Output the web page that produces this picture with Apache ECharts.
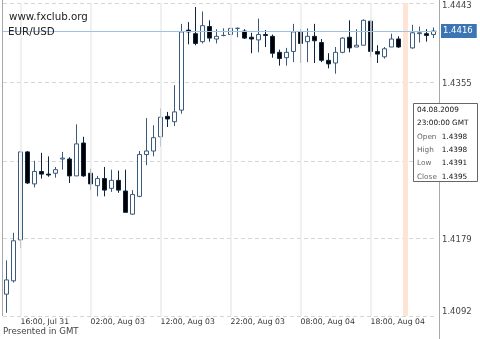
<!DOCTYPE html>
<html>
<head>
<meta charset="utf-8">
<script src="https://cdn.jsdelivr.net/npm/echarts@6/dist/echarts.min.js"></script>
<style>html,body{margin:0;padding:0;background:#fff}#c{width:480px;height:339px}</style>
</head>
<body>
<div id="c"></div>
<script>
// Hourly EUR/USD candles (GMT)
const categories = [
  '31.07.2009 14:00','31.07.2009 15:00','31.07.2009 16:00','31.07.2009 17:00','31.07.2009 18:00','31.07.2009 19:00','31.07.2009 20:00','31.07.2009 21:00',
  '02.08.2009 22:00','02.08.2009 23:00',
  '03.08.2009 00:00','03.08.2009 01:00','03.08.2009 02:00','03.08.2009 03:00','03.08.2009 04:00','03.08.2009 05:00','03.08.2009 06:00','03.08.2009 07:00',
  '03.08.2009 08:00','03.08.2009 09:00','03.08.2009 10:00','03.08.2009 11:00','03.08.2009 12:00','03.08.2009 13:00','03.08.2009 14:00','03.08.2009 15:00',
  '03.08.2009 16:00','03.08.2009 17:00','03.08.2009 18:00','03.08.2009 19:00','03.08.2009 20:00','03.08.2009 21:00','03.08.2009 22:00','03.08.2009 23:00',
  '04.08.2009 00:00','04.08.2009 01:00','04.08.2009 02:00','04.08.2009 03:00','04.08.2009 04:00','04.08.2009 05:00','04.08.2009 06:00','04.08.2009 07:00',
  '04.08.2009 08:00','04.08.2009 09:00','04.08.2009 10:00','04.08.2009 11:00','04.08.2009 12:00','04.08.2009 13:00','04.08.2009 14:00','04.08.2009 15:00',
  '04.08.2009 16:00','04.08.2009 17:00','04.08.2009 18:00','04.08.2009 19:00','04.08.2009 20:00','04.08.2009 21:00','04.08.2009 22:00','04.08.2009 23:00',
  '05.08.2009 00:00','05.08.2009 01:00','05.08.2009 02:00','05.08.2009 03:00'
];
const opens = [1.4120,1.4135,1.4181,1.4280,1.4244,1.4258,1.4255,1.4256,1.4272,1.4272,
  1.4253,1.4290,1.4256,1.4242,1.4250,1.4239,1.4248,1.4236,1.4210,1.4230,
  1.4277,1.4281,1.4297,1.4320,1.4314,1.4327,1.4417,1.4413,1.4404,1.4421,
  1.4407,1.4411,1.4412,1.4419,1.4416,1.4409,1.4406,1.4412,1.4410,1.4392,
  1.4386,1.4393,1.4415,1.4404,1.4410,1.4403,1.4383,1.4380,1.4392,1.4409,
  1.4398,1.4400,1.4427,1.4393,1.4387,1.4398,1.4407,1.4398,1.4397,1.4413,
  1.4413,1.4412];
const closes = [1.4136,1.4180,1.4280,1.4245,1.4258,1.4255,1.4254,1.4260,1.4273,1.4253,
  1.4289,1.4253,1.4244,1.4250,1.4237,1.4248,1.4237,1.4212,1.4232,1.4277,
  1.4281,1.4296,1.4319,1.4317,1.4325,1.4415,1.4415,1.4402,1.4422,1.4408,
  1.4410,1.4411,1.4419,1.4419,1.4408,1.4407,1.4412,1.4411,1.4391,1.4385,
  1.4392,1.4415,1.4402,1.4410,1.4405,1.4383,1.4379,1.4392,1.4408,1.4397,
  1.4400,1.4428,1.4393,1.4390,1.4396,1.4407,1.4398,1.4395,1.4414,1.4414,
  1.4411,1.4416];
const lows = [1.4099,1.4133,1.4172,1.4244,1.4240,1.4250,1.4252,1.4251,1.4260,1.4245,
  1.4253,1.4252,1.4237,1.4230,1.4230,1.4235,1.4234,1.4212,1.4209,1.4229,
  1.4265,1.4275,1.4286,1.4308,1.4309,1.4323,1.4401,1.4400,1.4402,1.4404,
  1.4402,1.4410,1.4412,1.4409,1.4407,1.4391,1.4392,1.4398,1.4386,1.4377,
  1.4377,1.4381,1.4380,1.4381,1.4380,1.4381,1.4374,1.4368,1.4391,1.4392,
  1.4398,1.4400,1.4387,1.4380,1.4385,1.4398,1.4397,1.4391,1.4396,1.4403,
  1.4404,1.4408];
const highs = [1.4158,1.4189,1.4281,1.4281,1.4270,1.4279,1.4275,1.4263,1.4280,1.4274,
  1.4311,1.4297,1.4261,1.4253,1.4263,1.4260,1.4259,1.4260,1.4237,1.4281,
  1.4318,1.4310,1.4329,1.4325,1.4355,1.4424,1.4426,1.4443,1.4438,1.4428,
  1.4418,1.4419,1.4419,1.4420,1.4418,1.4414,1.4430,1.4417,1.4412,1.4395,
  1.4397,1.4424,1.4418,1.4419,1.4424,1.4407,1.4391,1.4398,1.4409,1.4428,
  1.4418,1.4429,1.4428,1.4400,1.4398,1.4413,1.4410,1.4398,1.4423,1.4421,
  1.4418,1.4420];
// price axis
const yMin = 1.40954, yMax = 1.44475;
const gridValues = [1.40954, 1.41832, 1.42698, 1.43587, 1.44475];
const yTickLabels = ['1.4092', '1.4179', '1.4267', '1.4355', '1.4443'];
const xLabelIdx = [2, 12, 22, 32, 42, 52];
const cursorIdx = 57;
const months = {'07': 'Jul', '08': 'Aug'};

const candleData = opens.map((o, i) => [o, closes[i], lows[i], highs[i]]);
const lastPrice = closes[closes.length - 1];
function xLabel(c) {
  const [d, t] = c.split(' ');
  const p = d.split('.');
  return t + ', ' + months[p[1]] + ' ' + p[0];
}
const F = 'DejaVu Sans';

const markData = xLabelIdx.map(i => ({
  xAxis: categories[i], label: {show: false},
  lineStyle: {color: '#ebebeb', width: 1.5, type: 'solid'}
}));
markData.push({xAxis: categories[cursorIdx], label: {show: false},
  lineStyle: {color: '#fde4d4', width: 5, type: 'solid'}});
markData.push({yAxis: lastPrice,
  lineStyle: {color: '#9fc2e6', width: 1, type: 'solid'},
  label: {show: true, position: 'end', distance: 4, formatter: lastPrice.toFixed(4),
    backgroundColor: '#3b75b3', color: '#fff', padding: [3, 4, 2, 2], fontSize: 8.5, fontFamily: F}});

const ci = cursorIdx;
const [dPart, tPart] = categories[ci].split(' ');
const rows = [
  [dPart, ''], [tPart + ':00 GMT', ''],
  ['Open', opens[ci].toFixed(4)], ['High', highs[ci].toFixed(4)],
  ['Low', lows[ci].toFixed(4)], ['Close', closes[ci].toFixed(4)]
];
const TZ = 1000;
const tipChildren = [{type: 'rect', z: TZ, zlevel: 1, shape: {x: 0.5, y: 0.5, width: 64, height: 78},
  style: {fill: '#fff', stroke: '#666', lineWidth: 1}}];
rows.forEach((r, j) => {
  const y = 7 + j * 13.33;
  tipChildren.push({type: 'text', z: TZ + 1, zlevel: 1, x: 4, y: y, style: {text: r[0], font: '7.3px ' + F,
    fill: j < 2 ? '#111' : '#666', verticalAlign: 'middle', align: 'left'}});
  if (r[1]) tipChildren.push({type: 'text', z: TZ + 1, zlevel: 1, x: 28.7, y: y, style: {text: r[1], font: '7.3px ' + F,
    fill: '#111', verticalAlign: 'middle', align: 'left'}});
});

const chart = echarts.init(document.getElementById('c'), null, {renderer: 'canvas'});
chart.setOption({
  animation: false,
  backgroundColor: '#fff',
  title: [
    {text: 'www.fxclub.org', left: 9, top: 11.5, padding: 0,
      textStyle: {fontSize: 10.3, lineHeight: 12, fontWeight: 'normal', color: '#222', fontFamily: F}},
    {text: 'EUR/USD', left: 8, top: 26.5, padding: 0,
      textStyle: {fontSize: 10.3, lineHeight: 12, fontWeight: 'normal', color: '#222', fontFamily: F}},
    {text: 'Presented in GMT', left: 3, top: 327, padding: 0,
      textStyle: {fontSize: 8.6, lineHeight: 10, fontWeight: 'normal', color: '#444', fontFamily: F}}
  ],
  grid: {left: 3, top: 3, width: 434, height: 313, containLabel: false},
  xAxis: {
    type: 'category', data: categories, boundaryGap: true,
    axisLine: {show: false}, axisTick: {show: false}, splitLine: {show: false},
    axisLabel: {interval: (i) => xLabelIdx.indexOf(i) >= 0, align: 'left', margin: 2,
      fontSize: 7.7, fontFamily: F, color: '#333', formatter: xLabel}
  },
  yAxis: {
    type: 'value', position: 'right', min: yMin, max: yMax, scale: true,
    axisLine: {show: false},
    axisTick: {show: false, customValues: gridValues},
    splitLine: {show: true, lineStyle: {color: '#d6d6d6', width: 1, type: [4, 3]}},
    axisLabel: {customValues: gridValues, margin: 5, fontSize: 8.5, fontFamily: F, color: '#444',
      formatter: (v) => {
        let best = 0;
        gridValues.forEach((g, i) => { if (Math.abs(g - v) < Math.abs(gridValues[best] - v)) best = i; });
        const key = best === gridValues.length - 1 ? 't' : (best === 0 ? 'b' : 'm');
        return '{' + key + '|' + yTickLabels[best] + '}';
      },
      rich: {
        t: {padding: [6, 0, 0, 0], fontSize: 8.5, fontFamily: F, color: '#444'},
        m: {padding: [4, 0, 0, 0], fontSize: 8.5, fontFamily: F, color: '#444'},
        b: {padding: [0, 0, 9, 0], fontSize: 8.5, fontFamily: F, color: '#444'}
      }
    }
  },
  series: [
    {type: 'line', z: 1, data: categories.map(() => null), symbol: 'none', silent: true,
      markLine: {silent: true, precision: 6, symbol: ['none', 'none'], animation: false, data: markData}},
    {type: 'candlestick', z: 2, data: candleData, barWidth: 5,
      itemStyle: {color: '#ffffff', color0: '#000000', borderColor: '#3b5b7d', borderColor0: '#0d2440', borderWidth: 1}}
  ],
  graphic: [
    {type: 'line', shape: {x1: 2.5, y1: 0, x2: 2.5, y2: 316}, style: {stroke: '#a8a8a8', lineWidth: 1}, z: 50},
    {type: 'line', shape: {x1: 439.5, y1: 0, x2: 439.5, y2: 339}, style: {stroke: '#a8a8a8', lineWidth: 1}, z: 50},
    {type: 'group', left: 413, top: 103, z: TZ, zlevel: 1, children: tipChildren}
  ]
});
</script>
</body>
</html>
